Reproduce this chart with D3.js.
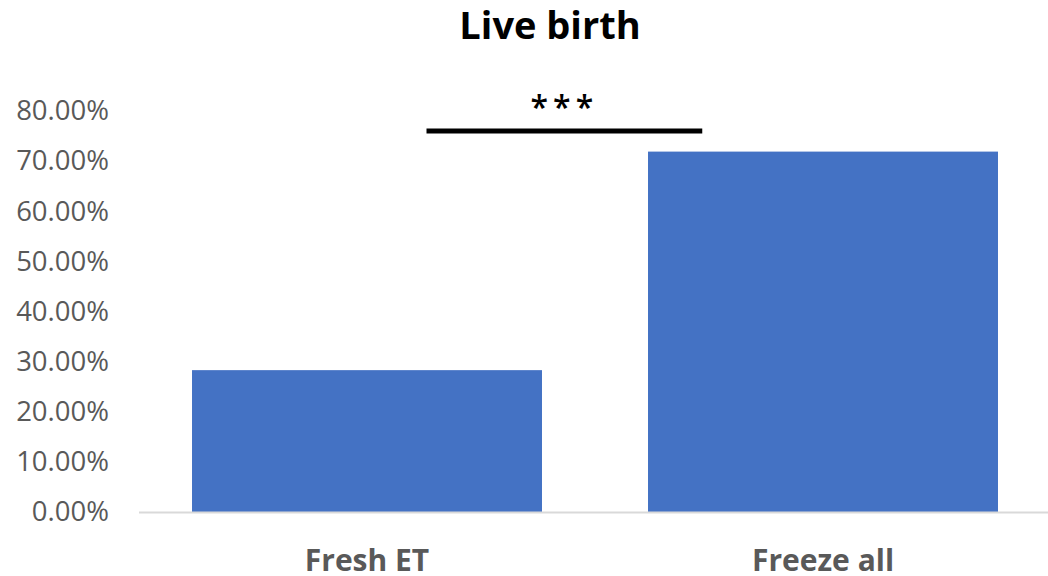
<!DOCTYPE html>
<html>
<head>
<meta charset="utf-8">
<script src="https://cdn.jsdelivr.net/npm/d3@7"></script>
<style>
  body { margin: 0; background: #fff; }
  text { font-family: "Open Sans", sans-serif; }
</style>
</head>
<body>
<script>
// data
let categories = ["Fresh ET", "Freeze all"];
let values = [0.283, 0.719];
let ticks = [0, 0.1, 0.2, 0.3, 0.4, 0.5, 0.6, 0.7, 0.8];
let title = "Live birth";
let signif = {from: "Fresh ET", to: "Freeze all", level: 0.76, label: "***"};

let W = 1048, H = 576;
let svg = d3.select("body").append("svg")
    .attr("width", W)
    .attr("height", H);

// scales
let x = d3.scaleBand()
    .domain(categories)
    .range([139, 1051])
    .paddingInner(0.2325)
    .paddingOuter(0.2325 / 2);

let y = d3.scaleLinear()
    .domain([0, 0.8])
    .range([512, 111]);

// title
svg.append("text")
    .attr("x", 550)
    .attr("y", 39)
    .attr("text-anchor", "middle")
    .attr("font-size", 38)
    .attr("font-weight", "bold")
    .attr("fill", "#000")
    .text(title);

// y axis labels (no line, no tick marks)
let yAxis = svg.append("g")
    .attr("transform", "translate(109,0)")
    .call(d3.axisLeft(y).tickValues(ticks).tickSize(0).tickPadding(0)
        .tickFormat(d3.format(".2%")));
yAxis.select(".domain").remove();
yAxis.selectAll("text")
    .attr("font-family", "'Open Sans', sans-serif")
    .attr("font-size", 27.5)
    .attr("fill", "#595959");

// bars
svg.selectAll(".bar")
    .data(categories)
    .join("rect")
    .attr("class", "bar")
    .attr("x", d => x(d))
    .attr("y", (d, i) => y(values[i]))
    .attr("width", x.bandwidth())
    .attr("height", (d, i) => y(0) - y(values[i]))
    .attr("fill", "#4472C4");

// baseline
svg.append("line")
    .attr("x1", x.range()[0])
    .attr("x2", x.range()[1])
    .attr("y1", y(0) + 0.5)
    .attr("y2", y(0) + 0.5)
    .attr("stroke", "#d9d9d9")
    .attr("stroke-width", 2);

// category labels
let xAxis = svg.append("g")
    .attr("transform", "translate(0," + y(0) + ")")
    .call(d3.axisBottom(x).tickSize(0).tickPadding(0));
xAxis.select(".domain").remove();
xAxis.selectAll("text")
    .attr("dy", null)
    .attr("y", 59)
    .attr("font-family", "'Open Sans', sans-serif")
    .attr("font-size", 30)
    .attr("font-weight", "bold")
    .attr("fill", "#595959");

// significance bar
let sx1 = x(signif.from) + x.bandwidth() * 0.67;
let sx2 = x(signif.to) + x.bandwidth() * 0.155;
svg.append("line")
    .attr("x1", sx1)
    .attr("x2", sx2)
    .attr("y1", y(signif.level))
    .attr("y2", y(signif.level))
    .attr("stroke", "#000")
    .attr("stroke-width", 5);

svg.append("text")
    .attr("x", (sx1 + sx2) / 2)
    .attr("y", y(signif.level) - 12)
    .attr("text-anchor", "middle")
    .attr("font-size", 32)
    .attr("font-weight", 600)
    .attr("letter-spacing", 5)
    .attr("fill", "#000")
    .text(signif.label);
</script>
</body>
</html>
